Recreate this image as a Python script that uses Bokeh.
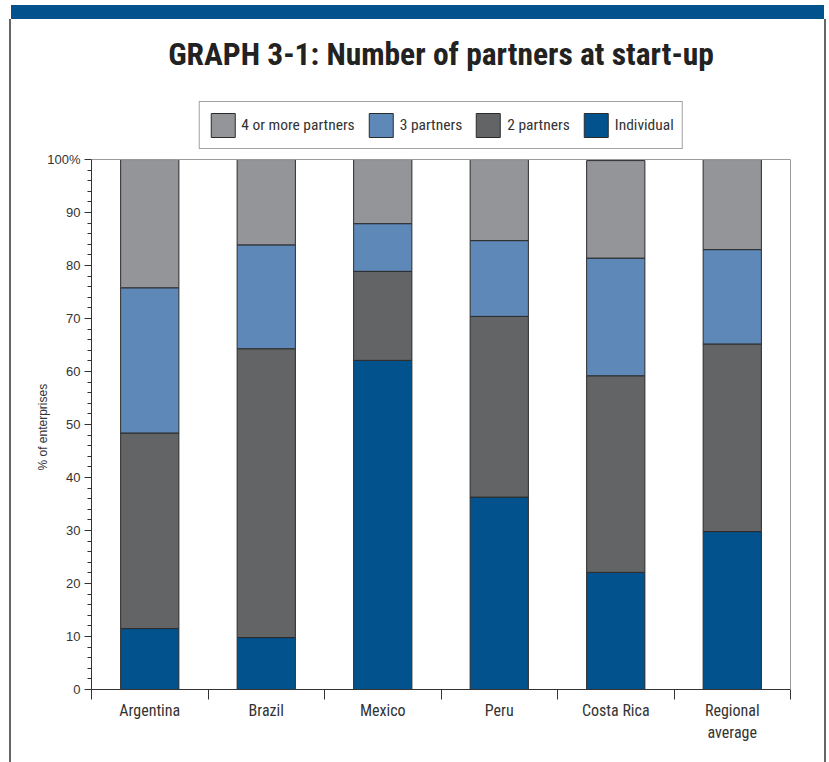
from bokeh.plotting import figure
from bokeh.models import (ColumnDataSource, FixedTicker, Legend, LegendItem, Range1d,
                          LinearAxis, Span, Title)
from bokeh.embed import file_html
from bokeh.resources import INLINE

categories = ["Argentina", "Brazil", "Mexico", "Peru", "Costa Rica", "Regional\naverage"]
individual = [11.5, 9.8, 62.1, 36.3, 22.1, 29.8]
two_partners = [36.9, 54.5, 16.8, 34.1, 37.1, 35.4]
three_partners = [27.4, 19.6, 9.0, 14.3, 22.2, 17.8]
four_plus = [24.2, 16.1, 12.1, 15.3, 18.4, 17.0]
series_names = ["Individual", "2 partners", "3 partners", "4 or more partners"]
series_colors = ["#02528e", "#636466", "#5e88b8", "#939598"]
y_ticks = [0, 10, 20, 30, 40, 50, 60, 70, 80, 90, 100]

COND = "Roboto Condensed"
REG = "Liberation Sans"

xpos = [i + 0.5 for i in range(len(categories))]
source = ColumnDataSource(dict(x=xpos, ind=individual, two=two_partners,
                               three=three_partners, four=four_plus))

# frame spans 0..115 so the legend can sit above the 100% line
p = figure(width=813, height=743, output_backend="svg", toolbar_location=None,
           x_range=Range1d(0, len(categories)), y_range=Range1d(0, 115.1),
           min_border_left=80, min_border_right=34, min_border_bottom=73, min_border_top=60,
           title="GRAPH 3-1: Number of partners at start-up")
# page frame drawn with shadows so that it does not change the layout
p.styles = {"margin-left": "11px", "margin-top": "19px",
            "box-shadow": "-2px 0 0 0 #666666, 2px 0 0 0 #666666, 0 -14px 0 0 #02528e"}
p.outline_line_color = None
p.xgrid.grid_line_color = None
p.ygrid.grid_line_color = None

p.title.align = "center"
p.title.text_font = COND
p.title.text_font_size = "31.5px"
p.title.text_font_style = "bold"
p.title.text_color = "#222222"
p.title.standoff = 13

renderers = p.vbar_stack(["ind", "two", "three", "four"], x="x", width=0.5,
                         color=series_colors, line_color="#2b2b2b", line_width=1,
                         source=source)

yax = p.yaxis[0]
yax.bounds = (0, 100)
yax.ticker = FixedTicker(ticks=y_ticks, minor_ticks=list(range(0, 101, 2)))
yax.major_label_overrides = {100: "100%"}
yax.major_tick_in = 0
yax.major_tick_out = 7
yax.minor_tick_in = 0
yax.minor_tick_out = 4
yax.axis_line_color = "#333333"
yax.major_tick_line_color = "#333333"
yax.minor_tick_line_color = "#333333"
yax.major_label_text_font = REG
yax.major_label_text_font_size = "13px"
yax.major_label_text_color = "#333333"
yax.major_label_standoff = 4

# y axis title, placed along the 0..100 part of the axis
ytitle = Title(text="% of enterprises", align="left", offset=219, standoff=-11,
               text_font=REG, text_font_size="12px", text_font_style="normal",
               text_color="#333333")
p.add_layout(ytitle, "left")

# thin gray frame line on the right, up to 100%
rax = LinearAxis(bounds=(0, 100), ticker=FixedTicker(ticks=[]),
                 axis_line_color="#9a9a9a", major_tick_line_color=None,
                 minor_tick_line_color=None, major_label_text_font_size="0px")
p.add_layout(rax, "right")
p.add_layout(Span(location=100, dimension="width", line_color="#9a9a9a", line_width=1))

xax = p.xaxis[0]
xax.ticker = FixedTicker(ticks=xpos, minor_ticks=list(range(len(categories) + 1)))
xax.major_label_overrides = {x: c for x, c in zip(xpos, categories)}
xax.major_tick_line_color = None
xax.major_tick_out = 0
xax.major_tick_in = 0
xax.minor_tick_in = 0
xax.minor_tick_out = 10
xax.minor_tick_line_color = "#333333"
xax.axis_line_color = "#333333"
xax.major_label_text_font = COND
xax.major_label_text_font_size = "16px"
xax.major_label_text_color = "#333333"
xax.major_label_standoff = 1

items = [LegendItem(label=n, renderers=[r]) for n, r in zip(series_names, renderers)]
legend = Legend(items=list(reversed(items)), orientation="horizontal", location="top_center",
                glyph_width=30, glyph_height=30, label_standoff=4, spacing=11,
                padding=8, margin=22, border_line_color="#444444", border_line_width=1,
                label_text_font=COND, label_text_font_size="15.5px",
                label_text_color="#333333")
p.add_layout(legend)

open("out.html", "w").write(file_html(p, INLINE))
